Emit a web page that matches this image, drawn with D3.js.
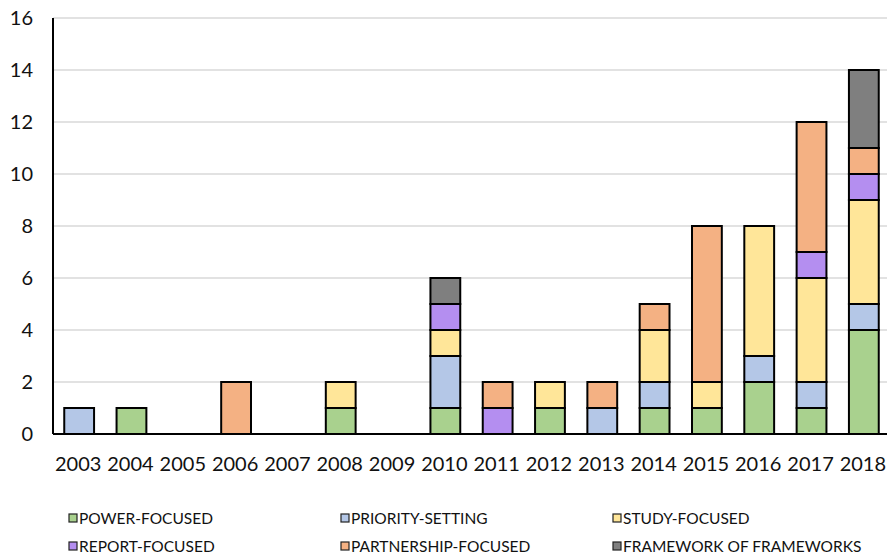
<!DOCTYPE html>
<html>
<head>
<meta charset="utf-8">
<script src="https://cdn.jsdelivr.net/npm/d3@7"></script>
<style>
  body { margin: 0; background: #fff; }
  svg { font-family: Lato, "Open Sans", sans-serif; fill: #111; }
</style>
</head>
<body>
<div id="chart"></div>
<script>
// chart values
const years = ['2003','2004','2005','2006','2007','2008','2009','2010','2011','2012','2013','2014','2015','2016','2017','2018'];
const seriesNames = ['POWER-FOCUSED','PRIORITY-SETTING','STUDY-FOCUSED','REPORT-FOCUSED','PARTNERSHIP-FOCUSED','FRAMEWORK OF FRAMEWORKS'];
const powerFocused       = [0,1,0,0,0,1,0,1,0,1,0,1,1,2,1,4];
const prioritySetting    = [1,0,0,0,0,0,0,2,0,0,1,1,0,1,1,1];
const studyFocused       = [0,0,0,0,0,1,0,1,0,1,0,2,1,5,4,4];
const reportFocused      = [0,0,0,0,0,0,0,1,1,0,0,0,0,0,1,1];
const partnershipFocused = [0,0,0,2,0,0,0,0,1,0,1,1,6,0,5,1];
const frameworkOfFw      = [0,0,0,0,0,0,0,1,0,0,0,0,0,0,0,3];
const yTicks = [0,2,4,6,8,10,12,14,16];
const colors = ['#A9D18E','#B4C7E7','#FFE699','#B48EF0','#F4B183','#7F7F7F'];

const width = 887, height = 556;
const margin = {left: 53, top: 18, right: -3, bottom: 122};

const svg = d3.select('#chart').append('svg')
    .attr('width', width)
    .attr('height', height);

// build rows for the stack
const allSeries = [powerFocused, prioritySetting, studyFocused, reportFocused, partnershipFocused, frameworkOfFw];
const rows = years.map((y, i) => {
    const r = {year: y};
    seriesNames.forEach((s, j) => r[s] = allSeries[j][i]);
    return r;
});
const stacked = d3.stack().keys(seriesNames)(rows);

const x = d3.scaleBand()
    .domain(years)
    .range([margin.left, width - margin.right])
    .paddingInner(0.43)
    .paddingOuter(0.215);

const y = d3.scaleLinear()
    .domain([0, 16])
    .range([height - margin.bottom, margin.top]);

// gridlines
svg.append('g')
    .selectAll('line')
    .data(yTicks.slice(1))
    .join('line')
    .attr('x1', margin.left)
    .attr('x2', width)
    .attr('y1', d => y(d))
    .attr('y2', d => y(d))
    .attr('stroke', '#d9d9d9')
    .attr('stroke-width', 1.5);

// y tick labels
svg.append('g')
    .selectAll('text')
    .data(yTicks)
    .join('text')
    .attr('x', 33)
    .attr('y', d => y(d))
    .attr('dy', '0.35em')
    .attr('text-anchor', 'end')
    .style('font-size', '20px')
    .text(d => d);

// bars
svg.append('g')
    .selectAll('g')
    .data(stacked)
    .join('g')
    .attr('fill', (d, i) => colors[i])
    .selectAll('rect')
    .data(d => d.filter(p => p[1] - p[0] > 0))
    .join('rect')
    .attr('x', d => x(d.data.year))
    .attr('width', x.bandwidth())
    .attr('y', d => y(d[1]))
    .attr('height', d => y(d[0]) - y(d[1]))
    .attr('stroke', '#000')
    .attr('stroke-width', 2);

// axis lines
svg.append('line')
    .attr('x1', margin.left).attr('x2', width)
    .attr('y1', y(0)).attr('y2', y(0))
    .attr('stroke', '#000').attr('stroke-width', 2);
svg.append('line')
    .attr('x1', margin.left).attr('x2', margin.left)
    .attr('y1', y(0)).attr('y2', y(16))
    .attr('stroke', '#000').attr('stroke-width', 2);

// x tick labels
svg.append('g')
    .selectAll('text')
    .data(years)
    .join('text')
    .attr('x', d => x(d) + x.bandwidth() / 2 - 1)
    .attr('y', 464)
    .attr('dy', '0.35em')
    .attr('text-anchor', 'middle')
    .style('font-size', '20px')
    .text(d => d);

// legend
const legendCols = [69, 341, 613];
const legendRows = [518, 546];
const legend = svg.append('g')
    .selectAll('g')
    .data(seriesNames)
    .join('g')
    .attr('transform', (d, i) => `translate(${legendCols[i % 3]},${legendRows[Math.floor(i / 3)]})`);
legend.append('rect')
    .attr('x', 0).attr('y', -4)
    .attr('width', 8).attr('height', 8)
    .attr('fill', (d, i) => colors[i])
    .attr('stroke', '#222').attr('stroke-width', 1.2);
legend.append('text')
    .attr('x', 10)
    .attr('dy', '0.36em')
    .style('font-size', '15.5px')
    .text(d => d);
</script>
</body>
</html>
